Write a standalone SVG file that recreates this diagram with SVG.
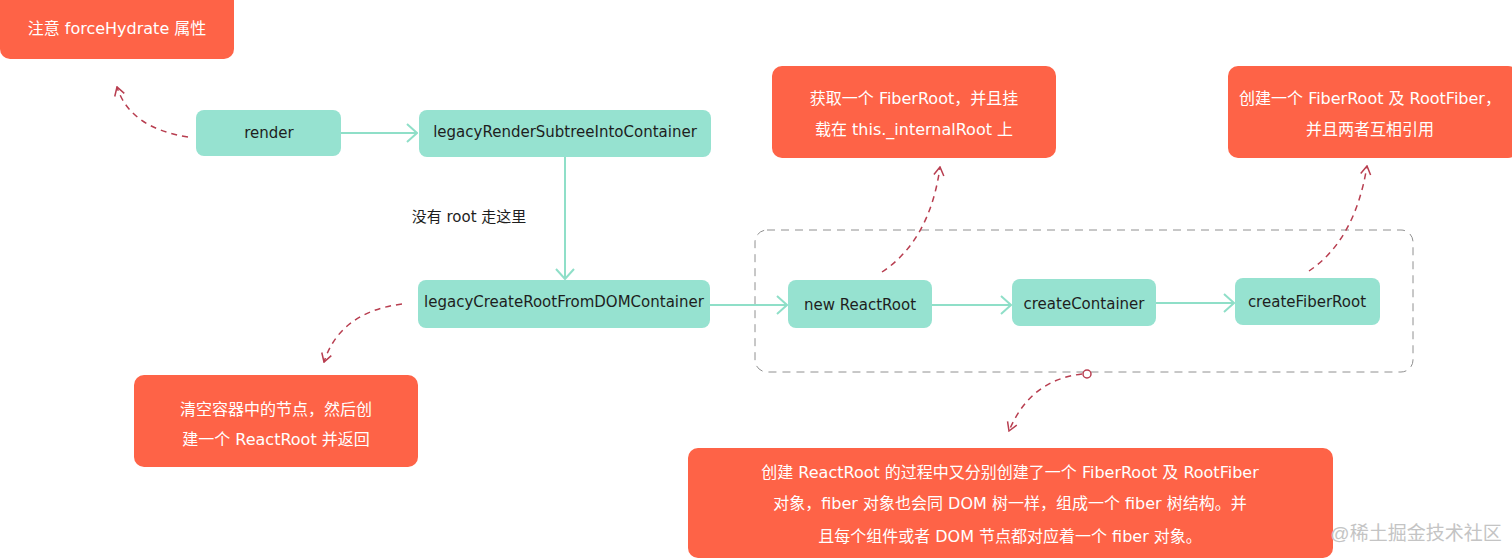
<svg xmlns="http://www.w3.org/2000/svg" width="1512" height="560" viewBox="0 0 1512 560">
<defs>
<style>
.fn{fill:#96e2d0;}
.note{fill:#fe6347;}
.t{font-family:"DejaVu Sans","Noto Sans CJK SC",sans-serif;font-size:15px;fill:#1e1e1e;text-anchor:middle;dominant-baseline:central;}
.w{font-family:"DejaVu Sans","Noto Sans CJK SC",sans-serif;font-size:16px;fill:#ffffff;text-anchor:middle;dominant-baseline:central;}
.flow{stroke:#8fdfc8;stroke-width:2;fill:none;marker-end:url(#ah);}
.dash{stroke:#b83e50;stroke-width:1.5;fill:none;stroke-dasharray:6 5;marker-end:url(#rh);}
</style>
<marker id="ah" viewBox="0 0 12 20" refX="11" refY="10" markerWidth="12" markerHeight="20" markerUnits="userSpaceOnUse" orient="auto">
<path d="M1,1 L11,10 L1,19" fill="none" stroke="#8fdfc8" stroke-width="2"/>
</marker>
<marker id="rh" viewBox="0 0 12 14" refX="11" refY="7" markerWidth="10" markerHeight="12" markerUnits="userSpaceOnUse" orient="auto">
<path d="M1,1 L11,7 L1,13" fill="none" stroke="#b83e50" stroke-width="1.8"/>
</marker>
</defs>
<rect width="1512" height="560" fill="#ffffff"/>

<g id="group-box">
<rect x="755" y="230" width="658" height="142" rx="12" fill="none" stroke="#909090" stroke-width="1" stroke-dasharray="8 6"/>
</g>

<g id="connectors">
<path class="flow" d="M341,133 L417,133"/>
<path class="flow" d="M565,157 L565,279"/>
<path class="flow" d="M710,305 L787,305"/>
<path class="flow" d="M932,305 L1011,305"/>
<path class="flow" d="M1156,303 L1234,303"/>
<path class="dash" d="M188,137 Q130,128 117,87"/>
<path class="dash" d="M402,304 Q340,312 324,362"/>
<path class="dash" d="M882,272 Q930,240 940,167"/>
<path class="dash" d="M1309,271 Q1355,240 1367,166"/>
<circle cx="1087" cy="374" r="4" fill="#ffffff" stroke="#b83e50" stroke-width="1.5"/>
<path class="dash" d="M1082,374 Q1030,380 1009,431"/>
<text x="469" y="217" class="t">没有 root 走这里</text>
</g>

<g id="note-forceHydrate">
<rect x="0" y="-10" width="234" height="69" rx="10" class="note"/>
<text x="117" y="28" class="w">注意 forceHydrate 属性</text>
</g>

<g id="node-render">
<rect x="196" y="110" width="145" height="46" rx="8" class="fn"/>
<text x="269" y="133" class="t">render</text>
</g>

<g id="node-legacyRenderSubtreeIntoContainer">
<rect x="419" y="110" width="292" height="47" rx="8" class="fn"/>
<text x="565" y="132" class="t">legacyRenderSubtreeIntoContainer</text>
</g>

<g id="node-legacyCreateRootFromDOMContainer">
<rect x="418" y="280" width="292" height="48" rx="8" class="fn"/>
<text x="564" y="302" class="t">legacyCreateRootFromDOMContainer</text>
</g>

<g id="node-newReactRoot">
<rect x="788" y="280" width="144" height="48" rx="8" class="fn"/>
<text x="860" y="305" class="t">new ReactRoot</text>
</g>

<g id="node-createContainer">
<rect x="1012" y="279" width="144" height="47" rx="8" class="fn"/>
<text x="1084" y="304" class="t">createContainer</text>
</g>

<g id="node-createFiberRoot">
<rect x="1235" y="278" width="145" height="47" rx="8" class="fn"/>
<text x="1307" y="302" class="t">createFiberRoot</text>
</g>

<g id="note-fiberRoot">
<rect x="772" y="66" width="284" height="92" rx="10" class="note"/>
<text x="914" y="98" class="w">获取一个 FiberRoot，并且挂</text>
<text x="914" y="129" class="w">载在 this._internalRoot 上</text>
</g>

<g id="note-createFiberRoot">
<rect x="1228" y="66" width="290" height="92" rx="10" class="note"/>
<text x="1370" y="98" class="w">创建一个 FiberRoot 及 RootFiber，</text>
<text x="1370" y="129" class="w">并且两者互相引用</text>
</g>

<g id="note-clear">
<rect x="134" y="375" width="284" height="92" rx="10" class="note"/>
<text x="276" y="409" class="w">清空容器中的节点，然后创</text>
<text x="276" y="439" class="w">建一个 ReactRoot 并返回</text>
</g>

<g id="note-fiber">
<rect x="688" y="448" width="645" height="110" rx="10" class="note"/>
<text x="1010" y="472" class="w">创建 ReactRoot 的过程中又分别创建了一个 FiberRoot 及 RootFiber</text>
<text x="1010" y="503" class="w">对象，fiber 对象也会同 DOM 树一样，组成一个 fiber 树结构。并</text>
<text x="1010" y="536" class="w">且每个组件或者 DOM 节点都对应着一个 fiber 对象。</text>
</g>

<text x="1416" y="533" font-family="Liberation Sans,Noto Sans CJK SC,sans-serif" font-size="19" fill="#c4c4c4" text-anchor="middle" dominant-baseline="central">@稀土掘金技术社区</text>
</svg>
